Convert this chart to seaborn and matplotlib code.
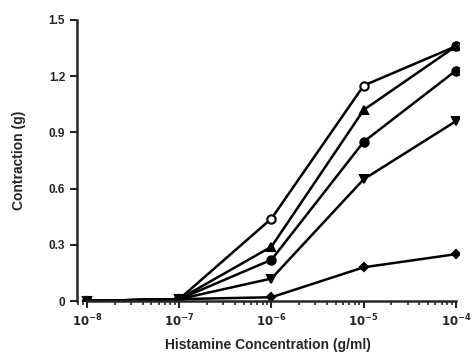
import numpy as np
import matplotlib
matplotlib.use('Agg')
import matplotlib.pyplot as plt
import pandas as pd
import seaborn as sns

# concentrations (g/ml) and contraction (g) per curve
conc = [1e-8, 1e-7, 1e-6, 1e-5, 1e-4]
open_circle = [0.0, 0.01, 0.44, 1.15, 1.36]
tri_up = [0.0, 0.01, 0.29, 1.02, 1.36]
filled_circle = [0.0, 0.01, 0.22, 0.85, 1.23]
tri_down = [0.0, 0.01, 0.12, 0.65, 0.96]
diamond = [0.0, 0.01, 0.02, 0.18, 0.25]

yticks = [0, 0.3, 0.6, 0.9, 1.2, 1.5]
ytick_labels = ['0', '0.3', '0.6', '0.9', '1.2', '1.5']

sns.set_style('ticks')
plt.rcParams['font.family'] = ['Liberation Sans', 'DejaVu Sans']
plt.rcParams['font.weight'] = 'bold'
plt.rcParams['mathtext.default'] = 'bf'

fig = plt.figure(figsize=(4.72, 3.59), dpi=100)
ax = fig.add_axes([77/472, 58/359, 382/472, 281/359])

series = [
    (open_circle, 'o', 'white'),
    (tri_up, '^', 'black'),
    (filled_circle, 'o', 'black'),
    (tri_down, 'v', 'black'),
    (diamond, 'D', 'black'),
]
for vals, mk, fc in series:
    df = pd.DataFrame({'conc': conc, 'contraction': vals})
    sns.lineplot(data=df, x='conc', y='contraction', ax=ax, color='black',
                 linewidth=1.8, marker=mk, markersize=6 if mk != 'D' else 4.5,
                 markerfacecolor=fc, markeredgecolor='black',
                 markeredgewidth=1.5)

ax.set_xscale('log')
ax.set_xlim(10**-8.108, 10**-3.967)
ax.set_ylim(0, 1.5)
ax.set_xticks(conc)
ax.set_xticklabels([r'$10^{-8}$', r'$10^{-7}$', r'$10^{-6}$', r'$10^{-5}$', r'$10^{-4}$'])
ax.set_yticks(yticks)
ax.set_yticklabels(ytick_labels)

ax.spines['top'].set_visible(False)
ax.spines['right'].set_visible(False)
ax.spines['left'].set_linewidth(1.8)
ax.spines['bottom'].set_linewidth(1.8)
ax.spines['bottom'].set_bounds(1e-8, 1e-4)

ax.tick_params(axis='both', which='major', width=1.5, length=5, labelsize=8.5)
ax.tick_params(axis='x', which='minor', width=1.2, length=3)

ax.set_xlabel('Histamine Concentration (g/ml)', fontsize=10, fontweight='bold', labelpad=6)
ax.set_ylabel('Contraction (g)', fontsize=10, fontweight='bold', labelpad=16)

fig.savefig('out.png', dpi=100)
